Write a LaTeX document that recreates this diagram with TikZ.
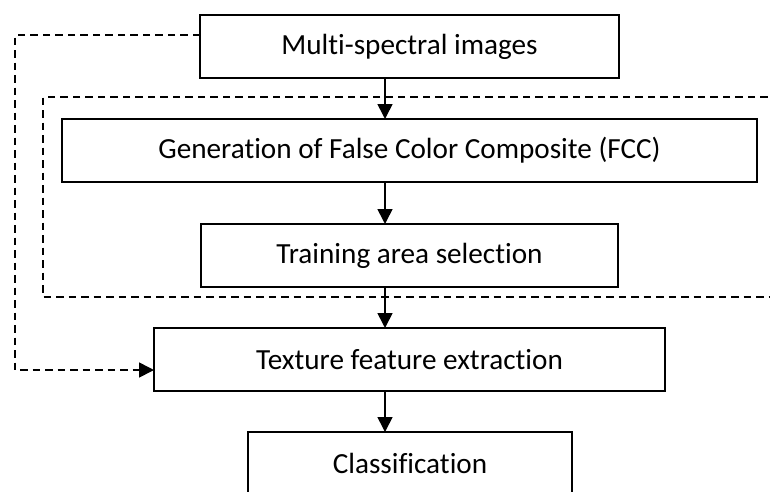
\documentclass[tikz,border=0pt]{standalone}
\usepackage{fontspec}
\setmainfont{Carlito}[Ligatures={NoCommon}]
\usetikzlibrary{arrows.meta}
\tikzset{
  procbox/.style={draw=black, line width=1.6pt, inner sep=0pt, outer sep=0pt,
    font=\fontsize{29.2}{34}\selectfont, align=center},
  arr/.style={line width=1.6pt, -{Triangle[width=15pt,length=15pt]}},
  dashline/.style={line width=1.6pt, dash pattern=on 7.5pt off 5pt},
}
\begin{document}
\begin{tikzpicture}[x=1pt,y=-1pt]
\useasboundingbox (0,0) rectangle (770,491);
\clip (0,0) rectangle (770,491);
\fill[white] (0,0) rectangle (770,491);

\node[procbox, minimum width=419pt, minimum height=63pt] (multi) at (409.5,46.5) {Multi-spectral images};
\node[procbox, minimum width=695pt, minimum height=63pt] (fcc) at (409.5,150.5) {Generation of False Color Composite (FCC)};
\node[procbox, minimum width=417pt, minimum height=63pt] (train) at (409.5,255.5) {Training area selection};
\node[procbox, minimum width=511pt, minimum height=63pt] (tex) at (409.5,359.5) {Texture feature extraction};
\node[procbox, minimum width=324pt, minimum height=63pt] (cls) at (410,463.5) {Classification};

% dashed group box (open to the right)
\coordinate (g1) at (780,97);
\coordinate (g2) at (43,97);
\coordinate (g3) at (43,297);
\coordinate (g4) at (780,297);
\draw[dashline] (g1) -- (g2) -- (g3) -- (g4);

% dashed bypass
\coordinate (b0) at (200,35);
\coordinate (b1) at (15,35);
\coordinate (b2) at (15,370);
\draw[dashline, -{Triangle[width=15pt,length=15pt]}] (b0) -- (b1) -- (b2) -- (tex.west |- b2);

% flow arrows
\coordinate (ax) at (385,0);
\draw[arr] (multi.south -| ax) -- (fcc.north -| ax);
\draw[arr] (fcc.south -| ax) -- (train.north -| ax);
\draw[arr] (train.south -| ax) -- (tex.north -| ax);
\draw[arr] (tex.south -| ax) -- (cls.north -| ax);
\end{tikzpicture}
\end{document}
